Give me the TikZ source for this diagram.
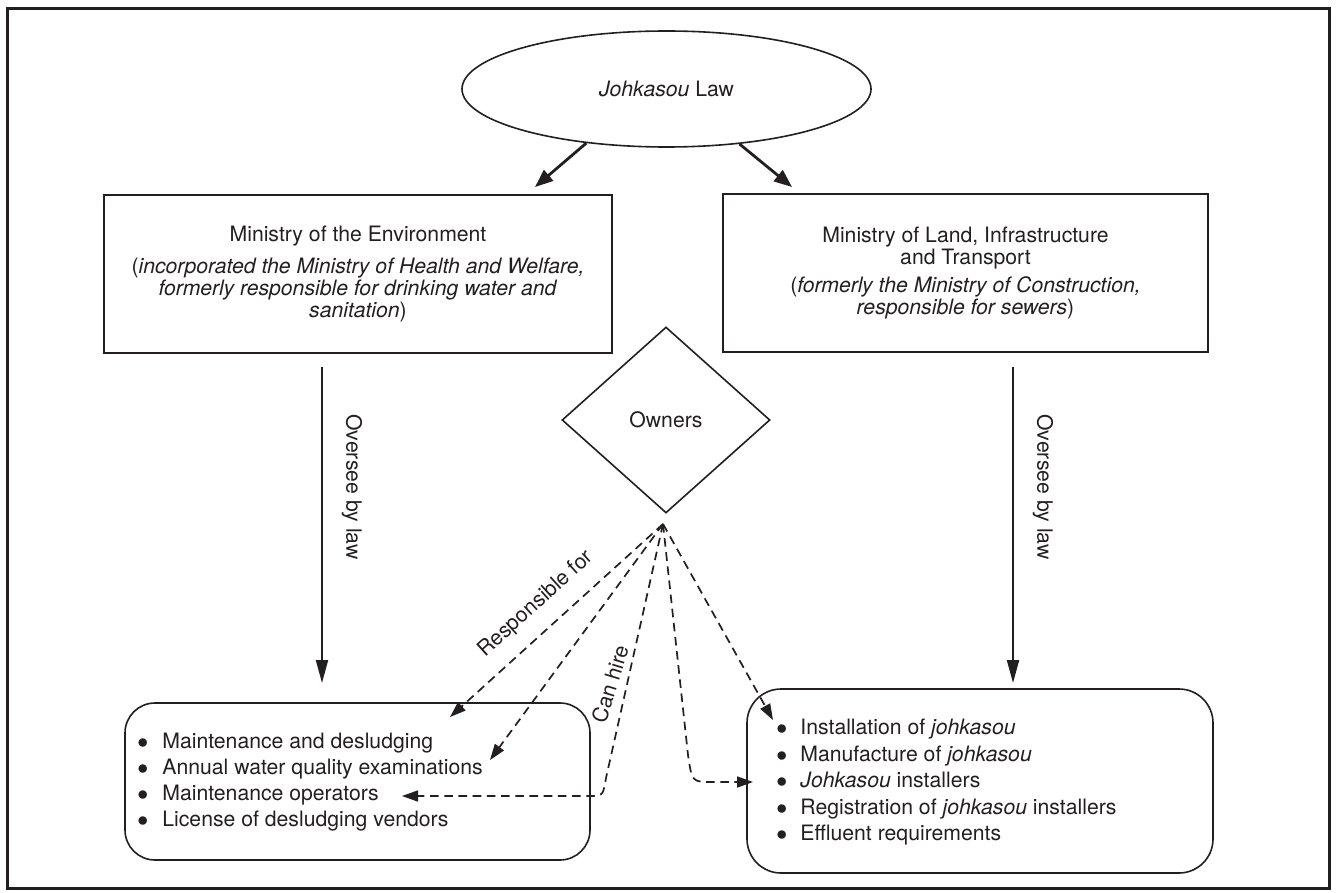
\documentclass[tikz,border=0pt]{standalone}
\usepackage{fontspec}
\setmainfont{TeX Gyre Heros}
\usetikzlibrary{shapes.geometric,arrows.meta}
\definecolor{ink}{RGB}{35,31,32}
\begin{document}
\begin{tikzpicture}[x=0.5pt,y=-0.5pt, ink, draw=ink, text=ink,
  base/.style={font=\fontsize{10.6}{11}\selectfont, inner sep=0pt},
  mbox/.style={base, draw, line width=0.8pt, minimum height=79pt, align=center},
  lbox/.style={draw, line width=0.8pt, rounded corners=15pt, inner sep=0pt},
  item/.style={base, anchor=west, text height=7.6pt, text depth=0pt},
  solidarr/.style={line width=1pt, -{Triangle[length=11.5pt,width=6pt]}},
  lawarr/.style={line width=1.4pt, -{Triangle[length=9pt,width=7pt]}},
  dasharr/.style={line width=0.85pt, dash pattern=on 4.3pt off 2.8pt, -{Triangle[length=8pt,width=5.5pt]}}
]
\useasboundingbox (0,0) rectangle (1337,893);
\draw[line width=1.5pt] (7,9) rectangle (1329,888);

\node[base, ellipse, draw, line width=0.8pt, minimum width=204.5pt, minimum height=58pt] (law) at (666.5,89) {\textit{Johkasou} Law};

\node[mbox, minimum width=254pt] (env) at (358,274) {Ministry of the Environment\\[4.7pt] (\textit{incorporated the Ministry of Health and Welfare,}\\ \textit{formerly responsible for drinking water and}\\ \textit{sanitation})};

\node[mbox, minimum width=242.5pt] (mlit) at (965.5,273) {Ministry of Land, Infrastructure\\ and Transport\\[2.8pt] (\textit{formerly the Ministry of Construction,}\\ \textit{responsible for sewers})};

\node[base, diamond, draw, line width=0.8pt, minimum width=104pt, minimum height=93pt] (own) at (666,420) {Owners};

\node[lbox, minimum width=232.5pt, minimum height=78.5pt] (lst1) at (357.5,781.5) {};
\node[lbox, rounded corners=17pt, minimum width=233pt, minimum height=92pt] (lst2) at (980,781) {};

\foreach \t [count=\i from 0] in {Maintenance and desludging, Annual water quality examinations, Maintenance operators, License of desludging vendors}
  \node[item] (a\i) at (137, 741+26*\i) {\makebox[12.5pt][l]{$\bullet$}\t};

\foreach \t [count=\i from 0] in {Installation of \textit{johkasou}, Manufacture of \textit{johkasou}, \textit{Johkasou} installers, Registration of \textit{johkasou} installers, Effluent requirements}
  \node[item] (b\i) at (776, 727+26.5*\i) {\makebox[12pt][l]{$\bullet$}\t};

% law arrows
\coordinate (la) at (535,187);
\coordinate (ra) at (792,187);
\draw[lawarr] (law.214) -- (la);
\draw[lawarr] (law.323) -- (ra);

% oversee arrows
\coordinate (ls) at (322,367);
\coordinate (le) at (322,683);
\coordinate (rs) at (1013,367);
\coordinate (re) at (1013,683);
\draw[solidarr] (ls) -- (le);
\draw[solidarr] (rs) -- (re);
\node[base, rotate=-90] (ovl) at (352,487) {Oversee by law};
\node[base, rotate=-90] (ovr) at (1043,487) {Oversee by law};

% dashed arrows from owners
\coordinate (o) at (663,524);
\coordinate (d1) at (450,717);
\coordinate (d2) at (490,760);
\coordinate (d3) at (402,796);
\coordinate (d4) at (753,782);
\coordinate (d5) at (773,720);
\draw[dasharr] (o) -- (d1);
\draw[dasharr] (o) -- (d2);
\draw[dasharr] (o) -- (606,778) .. controls (603,796) .. (588,796) -- (d3);
\draw[dasharr] (o) -- (688,755) .. controls (692,782) .. (712,782) -- (d4);
\draw[dasharr] (o) -- (d5);

\node[base, rotate=42] (resp) at (536,604) {Responsible for};
\node[base, rotate=73] (hire) at (610,684) {Can hire};
\end{tikzpicture}
\end{document}
